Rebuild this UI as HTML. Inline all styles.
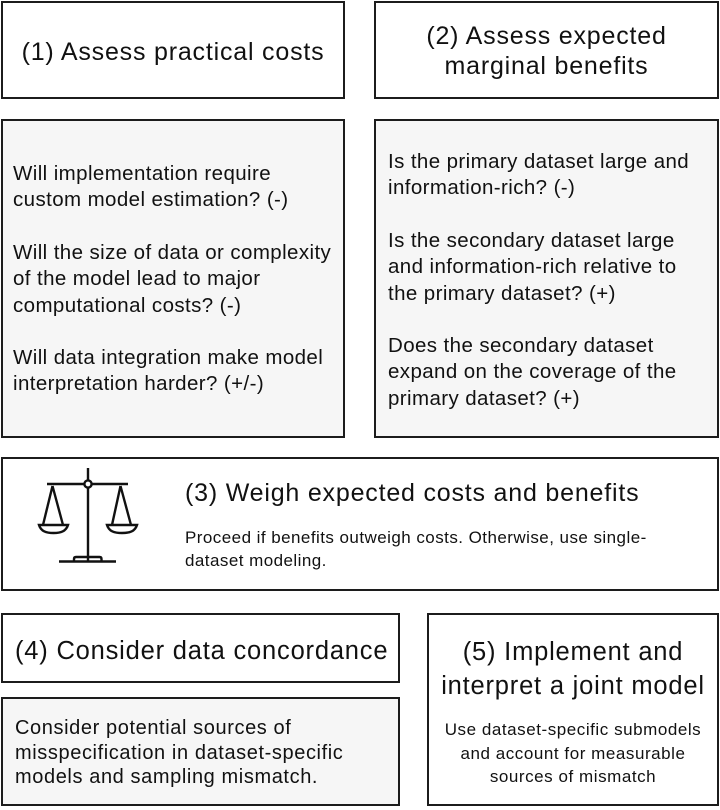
<!DOCTYPE html>
<html>
<head>
<meta charset="utf-8">
<style>
  html, body { margin:0; padding:0; background:#fff; }
  body { width:720px; height:810px; position:relative; overflow:hidden;
         font-family:"Liberation Sans", Arial, sans-serif; color:#111; }
  .box { position:absolute; box-sizing:border-box; border:2.6px solid #1c1c1c; background:#fff; }
  .gray { background:#f6f6f6; }
  .ln { position:absolute; white-space:nowrap; }
  .t25 { font-size:25px; letter-spacing:0.8px; line-height:30px; }
  .t255 { font-size:25.5px; letter-spacing:0.8px; }
  .b { font-size:20.5px; letter-spacing:0.4px; line-height:26.3px; }
  .s17 { font-size:17px; letter-spacing:0.45px; }
  .c { text-align:center; }
</style>
</head>
<body>

<!-- Boxes -->
<div class="box" style="left:1px;top:1px;width:344px;height:98px;"></div>
<div class="box" style="left:374px;top:1px;width:345px;height:98px;"></div>
<div class="box gray" style="left:1px;top:119px;width:344px;height:319px;"></div>
<div class="box gray" style="left:374px;top:119px;width:345px;height:319px;"></div>
<div class="box" style="left:1px;top:457px;width:718px;height:134px;"></div>
<div class="box" style="left:1px;top:613px;width:399px;height:70px;"></div>
<div class="box gray" style="left:1px;top:697px;width:399px;height:109px;"></div>
<div class="box" style="left:427px;top:613px;width:292px;height:193px;"></div>

<!-- Box 1 title -->
<div class="ln t25 c" style="left:1px;width:344px;top:37px;">(1) Assess practical costs</div>

<!-- Box 2 title -->
<div class="ln t25 c" style="left:374px;width:345px;top:21px;">(2) Assess expected</div>
<div class="ln t25 c" style="left:374px;width:345px;top:51px;">marginal benefits</div>

<!-- Box 1b body -->
<div class="ln b" style="left:13px;top:161px;">Will implementation require</div>
<div class="ln b" style="left:13px;top:187.3px;">custom model estimation? (-)</div>
<div class="ln b" style="left:13px;top:239.9px;">Will the size of data or complexity</div>
<div class="ln b" style="left:13px;top:266.2px;">of the model lead to major</div>
<div class="ln b" style="left:13px;top:292.5px;">computational costs? (-)</div>
<div class="ln b" style="left:13px;top:345.1px;">Will data integration make model</div>
<div class="ln b" style="left:13px;top:371.4px;">interpretation harder? (+/-)</div>

<!-- Box 2b body -->
<div class="ln b" style="left:388px;top:149px;">Is the primary dataset large and</div>
<div class="ln b" style="left:388px;top:175.3px;">information-rich? (-)</div>
<div class="ln b" style="left:388px;top:227.9px;">Is the secondary dataset large</div>
<div class="ln b" style="left:388px;top:254.2px;">and information-rich relative to</div>
<div class="ln b" style="left:388px;top:280.5px;">the primary dataset? (+)</div>
<div class="ln b" style="left:388px;top:333.1px;">Does the secondary dataset</div>
<div class="ln b" style="left:388px;top:359.4px;">expand on the coverage of the</div>
<div class="ln b" style="left:388px;top:385.7px;">primary dataset? (+)</div>

<!-- Box 3 -->
<svg style="position:absolute;left:0;top:0;" width="720" height="810" viewBox="0 0 720 810">
  <g stroke="#111" stroke-width="2.4" fill="none" stroke-linecap="butt">
    <line x1="88" y1="468" x2="88" y2="561"/>
    <line x1="47" y1="484" x2="128" y2="484"/>
    <line x1="52.5" y1="486" x2="43" y2="525"/>
    <line x1="52.5" y1="486" x2="63" y2="525"/>
    <line x1="120.5" y1="486" x2="112" y2="525"/>
    <line x1="120.5" y1="486" x2="131" y2="525"/>
    <path d="M39 525 H68 C66 531.5 60.5 533 53.5 533 C46.5 533 41 531.5 39 525 Z" fill="#fff"/>
    <path d="M107 525 H137 C135 531.5 129.5 533 122 533 C114.5 533 109 531.5 107 525 Z" fill="#fff"/>
    <line x1="59" y1="561.5" x2="116" y2="561.5"/>
    <path d="M74 561 V559 Q74 557 76 557 H99.5 Q101.5 557 101.5 559 V561"/>
    <circle cx="88" cy="484" r="3.6" fill="#fff"/>
  </g>
</svg>
<div class="ln t25" style="left:185px;top:478px;">(3) Weigh expected costs and benefits</div>
<div class="ln s17" style="left:185px;top:527.3px;line-height:22.7px;">Proceed if benefits outweigh costs. Otherwise, use single-</div>
<div class="ln s17" style="left:185px;top:550px;line-height:22.7px;">dataset modeling.</div>

<!-- Box 4 -->
<div class="ln t255" style="left:15px;top:636px;line-height:30px;">(4) Consider data concordance</div>
<div class="ln" style="left:15px;top:716px;font-size:20px;letter-spacing:0.6px;line-height:24.5px;">Consider potential sources of</div>
<div class="ln" style="left:15px;top:740.5px;font-size:20px;letter-spacing:0.6px;line-height:24.5px;">misspecification in dataset-specific</div>
<div class="ln" style="left:15px;top:765px;font-size:20px;letter-spacing:0.6px;line-height:24.5px;">models and sampling mismatch.</div>

<!-- Box 5 -->
<div class="ln t255 c" style="left:427px;width:292px;top:635px;line-height:34px;">(5) Implement and</div>
<div class="ln t255 c" style="left:427px;width:292px;top:669px;line-height:34px;">interpret a joint model</div>
<div class="ln c" style="left:427px;width:292px;top:718px;font-size:17px;letter-spacing:0.55px;line-height:23.6px;">Use dataset-specific submodels</div>
<div class="ln c" style="left:427px;width:292px;top:741.6px;font-size:17px;letter-spacing:0.55px;line-height:23.6px;">and account for measurable</div>
<div class="ln c" style="left:427px;width:292px;top:765.2px;font-size:17px;letter-spacing:0.55px;line-height:23.6px;">sources of mismatch</div>

</body>
</html>
